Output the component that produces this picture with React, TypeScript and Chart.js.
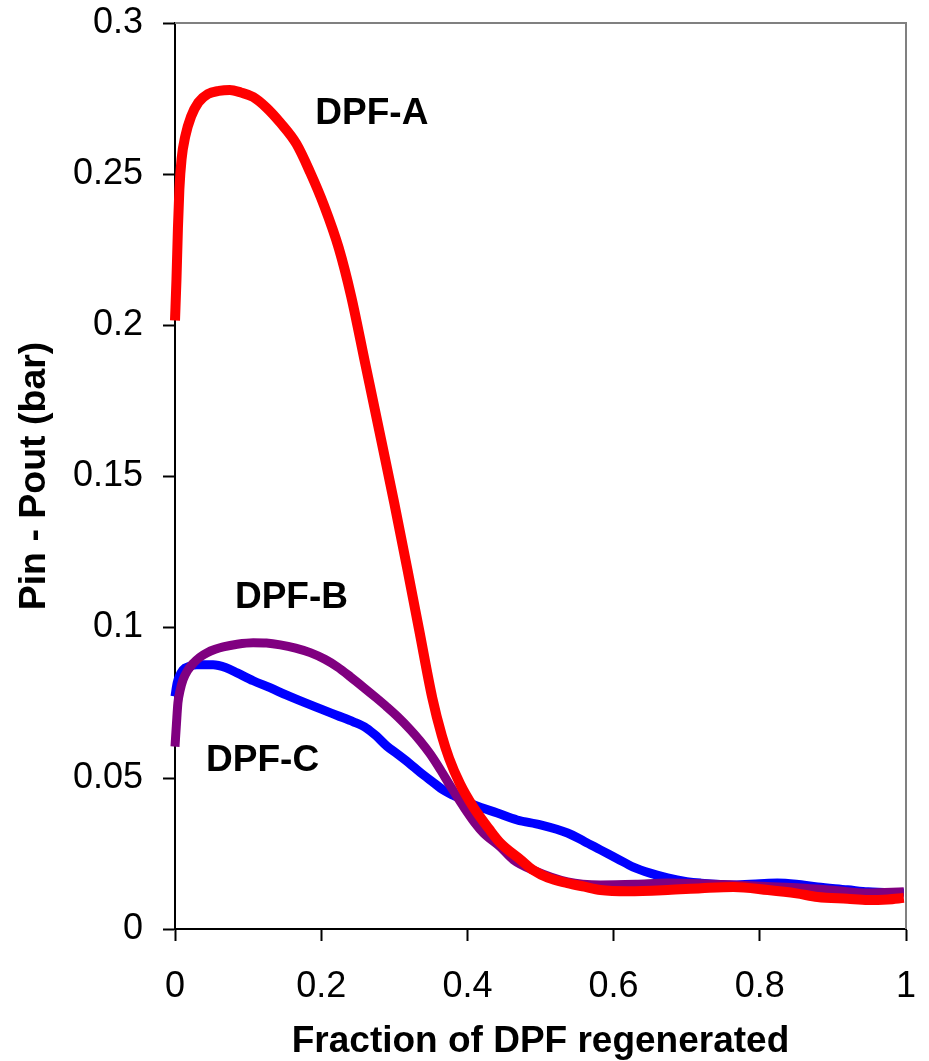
import React, { useEffect, useRef } from 'react';
import { Chart, registerables } from 'chart.js';

Chart.register(...registerables);

const seriesNames = ['DPF-A', 'DPF-B', 'DPF-C'];
const seriesColors = ['#FF0000', '#800080', '#0000FF'];

const dpfAX = [0, 0.002, 0.004, 0.006, 0.009, 0.014, 0.022, 0.032, 0.045, 0.06, 0.075, 0.09, 0.107, 0.125, 0.144, 0.166, 0.185, 0.204, 0.224, 0.241, 0.26, 0.282, 0.3, 0.318, 0.334, 0.352, 0.365, 0.375, 0.39, 0.408, 0.43, 0.445, 0.473, 0.49, 0.51, 0.537, 0.56, 0.582, 0.62, 0.674, 0.72, 0.764, 0.811, 0.85, 0.879, 0.92, 0.948, 0.975, 0.997];
const dpfAY = [0.2015, 0.215, 0.232, 0.245, 0.255, 0.2624, 0.269, 0.2737, 0.2765, 0.2775, 0.2778, 0.277, 0.2755, 0.272, 0.267, 0.26, 0.2505, 0.2395, 0.2255, 0.2095, 0.1875, 0.162, 0.141, 0.119, 0.099, 0.0765, 0.064, 0.0565, 0.048, 0.0404, 0.033, 0.0285, 0.0229, 0.0195, 0.017, 0.0152, 0.014, 0.0129, 0.0125, 0.0129, 0.0135, 0.0139, 0.0129, 0.0118, 0.0106, 0.01, 0.0096, 0.0098, 0.0103];

const dpfBX = [0, 0.002, 0.004, 0.007, 0.011, 0.017, 0.025, 0.034, 0.044, 0.055, 0.066, 0.085, 0.107, 0.125, 0.144, 0.165, 0.185, 0.205, 0.222, 0.24, 0.258, 0.275, 0.29, 0.305, 0.322, 0.335, 0.349, 0.363, 0.377, 0.395, 0.41, 0.422, 0.445, 0.463, 0.49, 0.537, 0.582, 0.63, 0.674, 0.72, 0.764, 0.81, 0.856, 0.9, 0.948, 0.997];
const dpfBY = [0.0604, 0.068, 0.0749, 0.079, 0.0825, 0.0855, 0.088, 0.09, 0.0915, 0.0926, 0.0934, 0.0943, 0.0948, 0.0947, 0.0941, 0.093, 0.0915, 0.0893, 0.0868, 0.0835, 0.08, 0.0766, 0.0735, 0.0702, 0.066, 0.0624, 0.058, 0.0528, 0.0472, 0.0404, 0.0352, 0.0318, 0.0272, 0.0229, 0.0195, 0.0156, 0.0146, 0.0148, 0.0152, 0.015, 0.0146, 0.0141, 0.0136, 0.0128, 0.0119, 0.0123];

const dpfCX = [0, 0.003, 0.011, 0.02, 0.03, 0.052, 0.07, 0.085, 0.107, 0.13, 0.152, 0.175, 0.2, 0.222, 0.244, 0.262, 0.275, 0.29, 0.304, 0.32, 0.336, 0.354, 0.367, 0.381, 0.395, 0.41, 0.441, 0.468, 0.5, 0.537, 0.56, 0.582, 0.605, 0.627, 0.65, 0.674, 0.7, 0.719, 0.764, 0.8, 0.824, 0.85, 0.879, 0.92, 0.948, 0.997];
const dpfCY = [0.077, 0.0815, 0.0858, 0.087, 0.0875, 0.0875, 0.0865, 0.0848, 0.0822, 0.0799, 0.0775, 0.0752, 0.0728, 0.0707, 0.0686, 0.0665, 0.064, 0.0605, 0.058, 0.055, 0.0517, 0.0484, 0.046, 0.0442, 0.0427, 0.041, 0.0384, 0.0361, 0.0345, 0.0318, 0.029, 0.0262, 0.0233, 0.0205, 0.0185, 0.0169, 0.0157, 0.0152, 0.0146, 0.015, 0.0152, 0.0148, 0.0139, 0.013, 0.0123, 0.0119];

const labelX = [0.192, 0.082, 0.0425];
const labelY = [0.27, 0.1097, 0.0557];

const xTickLabels = ['0', '0.2', '0.4', '0.6', '0.8', '1'];
const yTickLabels = ['0', '0.05', '0.1', '0.15', '0.2', '0.25', '0.3'];

const xTitle = 'Fraction of DPF regenerated';
const yTitle = 'Pin - Pout (bar)';

const FONT = "'Liberation Sans', Arial, sans-serif";

function zip(xs: number[], ys: number[]) {
  return xs.map((x, i) => ({ x, y: ys[i] }));
}

const framePlugin = {
  id: 'frame',
  beforeDatasetsDraw(chart: any) {
    const { ctx, chartArea } = chart;
    ctx.save();
    ctx.strokeStyle = '#808080';
    ctx.lineWidth = 2;
    ctx.beginPath();
    ctx.moveTo(chartArea.left, chartArea.top);
    ctx.lineTo(chartArea.right, chartArea.top);
    ctx.lineTo(chartArea.right, chartArea.bottom);
    ctx.stroke();
    ctx.restore();
  },
  afterDatasetsDraw(chart: any) {
    const { ctx, scales } = chart;
    ctx.save();
    ctx.fillStyle = '#000';
    ctx.font = `bold 37px ${FONT}`;
    ctx.textAlign = 'left';
    ctx.textBaseline = 'middle';
    seriesNames.forEach((name, i) => {
      ctx.fillText(name, scales.x.getPixelForValue(labelX[i]), scales.y.getPixelForValue(labelY[i]));
    });
    ctx.restore();
  },
};

export default function App() {
  const ref = useRef<HTMLCanvasElement>(null);
  useEffect(() => {
    document.body.style.margin = '0';
    const canvas = ref.current!;
    const series = [zip(dpfAX, dpfAY), zip(dpfBX, dpfBY), zip(dpfCX, dpfCY)];
    const chart = new Chart(canvas, {
      type: 'line',
      data: {
        datasets: series.map((d, i) => ({
          label: seriesNames[i],
          data: d,
          borderColor: seriesColors[i],
          backgroundColor: seriesColors[i],
          borderWidth: i === 0 ? 10 : 9,
          pointRadius: 0,
          cubicInterpolationMode: 'monotone' as const,
          fill: false,
          clip: false as any,
        })),
      },
      options: {
        responsive: false,
        animation: false,
        devicePixelRatio: 1,
        layout: { padding: { left: 0, right: 23, top: 23, bottom: 0 } },
        plugins: { legend: { display: false }, tooltip: { enabled: false } },
        scales: {
          x: {
            type: 'linear',
            min: 0,
            max: 1,
            ticks: {
              stepSize: 0.2,
              color: '#000',
              font: { family: FONT, size: 36 },
              padding: 24,
              maxRotation: 0,
              callback: (_v: any, i: number) => xTickLabels[i],
            },
            grid: { drawOnChartArea: false, color: '#000', tickLength: 12, tickWidth: 2 },
            border: { color: '#000', width: 2 },
            title: {
              display: true,
              text: xTitle,
              color: '#000',
              font: { family: FONT, size: 37, weight: 'bold' },
              padding: { top: 0, bottom: -3 },
            },
            afterFit: (s: any) => {
              s.height = 132;
              s.paddingLeft = 0;
              s.paddingRight = 0;
              s.paddingTop = 0;
              s.paddingBottom = 0;
            },
          },
          y: {
            type: 'linear',
            min: 0,
            max: 0.3,
            ticks: {
              stepSize: 0.05,
              color: '#000',
              font: { family: FONT, size: 36 },
              padding: 20,
              callback: (_v: any, i: number) => yTickLabels[i],
            },
            grid: { drawOnChartArea: false, color: '#000', tickLength: 12, tickWidth: 2 },
            border: { color: '#000', width: 2 },
            title: {
              display: true,
              text: yTitle,
              color: '#000',
              font: { family: FONT, size: 37.5, weight: 'bold' },
              padding: { top: 12.5, bottom: 0 },
            },
            afterFit: (s: any) => {
              s.width = 175;
              s.paddingLeft = 0;
              s.paddingRight = 0;
              s.paddingTop = 0;
              s.paddingBottom = 0;
            },
          },
        },
      },
      plugins: [framePlugin],
    });
    return () => chart.destroy();
  }, []);
  return <canvas ref={ref} width={929} height={1061} style={{ display: 'block' }} />;
}
